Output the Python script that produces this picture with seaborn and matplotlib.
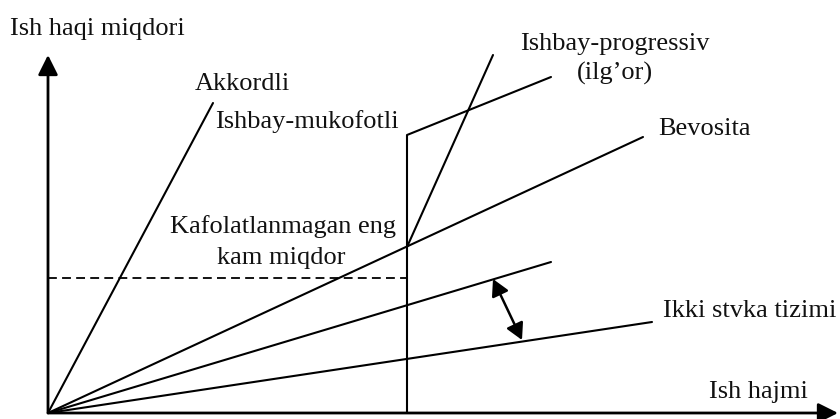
import matplotlib
matplotlib.use("Agg")
import matplotlib.pyplot as plt
import seaborn as sns
import pandas as pd

# ---- data (schematic units: x = ish hajmi, y = ish haqi miqdori) ----
akkordli_x = [0.0, 16.5]
akkordli_y = [0.0, 31.0]

bevosita_x = [0.0, 59.5]
bevosita_y = [0.0, 27.6]

mukofotli_x = [35.9, 35.9, 50.3]
mukofotli_y = [0.0, 27.8, 33.6]

progressiv_x = [35.9, 44.5]
progressiv_y = [16.6, 35.8]

ikki_top_x = [0.0, 50.3]
ikki_top_y = [0.0, 15.1]

ikki_low_x = [0.0, 60.4]
ikki_low_y = [0.0, 9.1]

min_wage_x = [0.0, 35.9]
min_wage_y = [13.5, 13.5]

gap_arrow_x = [44.5, 47.4]
gap_arrow_y = [13.4, 7.3]

y_axis_top = 35.8
x_axis_end = 79.0

labels = [
    # text, x, y, ha
    ("Ish haqi miqdori", -3.8, 37.8, "left"),
    ("Akkordli", 14.7, 32.3, "left"),
    ("Ishbay-mukofotli", 16.7, 28.5, "left"),
    ("Ishbay-progressiv", 56.65, 36.3, "center"),
    ("(ilg\u2019or)", 56.7, 33.3, "center"),
    ("Bevosita", 61.0, 27.8, "left"),
    ("Kafolatlanmagan eng", 23.45, 18.0, "center"),
    ("kam miqdor", 23.35, 14.9, "center"),
    ("Ikki stvka tizimi", 61.5, 9.6, "left"),
    ("Ish hajmi", 66.1, 1.5, "left"),
]

sns.set_style("white")
plt.rcParams["font.family"] = ["Liberation Serif", "DejaVu Serif"]

fig = plt.figure(figsize=(8.4, 4.19), dpi=100)
ax = fig.add_axes([0, 0, 1, 1])

series = [
    ("akkordli", akkordli_x, akkordli_y),
    ("bevosita", bevosita_x, bevosita_y),
    ("mukofotli", mukofotli_x, mukofotli_y),
    ("progressiv", progressiv_x, progressiv_y),
    ("ikki_top", ikki_top_x, ikki_top_y),
    ("ikki_low", ikki_low_x, ikki_low_y),
]
rows = []
for name, xs, ys in series:
    for i, (xv, yv) in enumerate(zip(xs, ys)):
        rows.append({"series": name, "order": i, "x": xv, "y": yv})
df = pd.DataFrame(rows)

sns.lineplot(data=df, x="x", y="y", units="series", estimator=None,
             sort=False, color="black", linewidth=1.5, ax=ax, legend=False)

sns.lineplot(x=min_wage_x, y=min_wage_y, color="black", linewidth=1.3,
             dashes=False, ax=ax, legend=False)
ax.lines[-1].set_dashes((4.9, 2.9))

# axes with arrows
ax.annotate("", xy=(0, y_axis_top), xytext=(0, 0),
            arrowprops=dict(arrowstyle="-|>,head_length=0.6,head_width=0.3",
                            mutation_scale=20, lw=2.0, color="black",
                            shrinkA=0, shrinkB=0))
ax.annotate("", xy=(x_axis_end, 0), xytext=(0, 0),
            arrowprops=dict(arrowstyle="-|>,head_length=0.6,head_width=0.3",
                            mutation_scale=20, lw=2.0, color="black",
                            shrinkA=0, shrinkB=0))
# double arrow between the two rates
ax.annotate("", xy=(gap_arrow_x[1], gap_arrow_y[1]),
            xytext=(gap_arrow_x[0], gap_arrow_y[0]),
            arrowprops=dict(arrowstyle="<|-|>,head_length=0.55,head_width=0.3",
                            mutation_scale=18, lw=1.8, color="black",
                            shrinkA=0, shrinkB=0))

for txt, tx, ty, ha in labels:
    ax.text(tx, ty, txt, ha=ha, va="baseline", fontsize=19, color="#111111")

ax.set_xlim(-4.8, 79.2)
ax.set_ylim(-0.6, 41.3)
ax.set_axis_off()

fig.savefig("out.png", dpi=100)
